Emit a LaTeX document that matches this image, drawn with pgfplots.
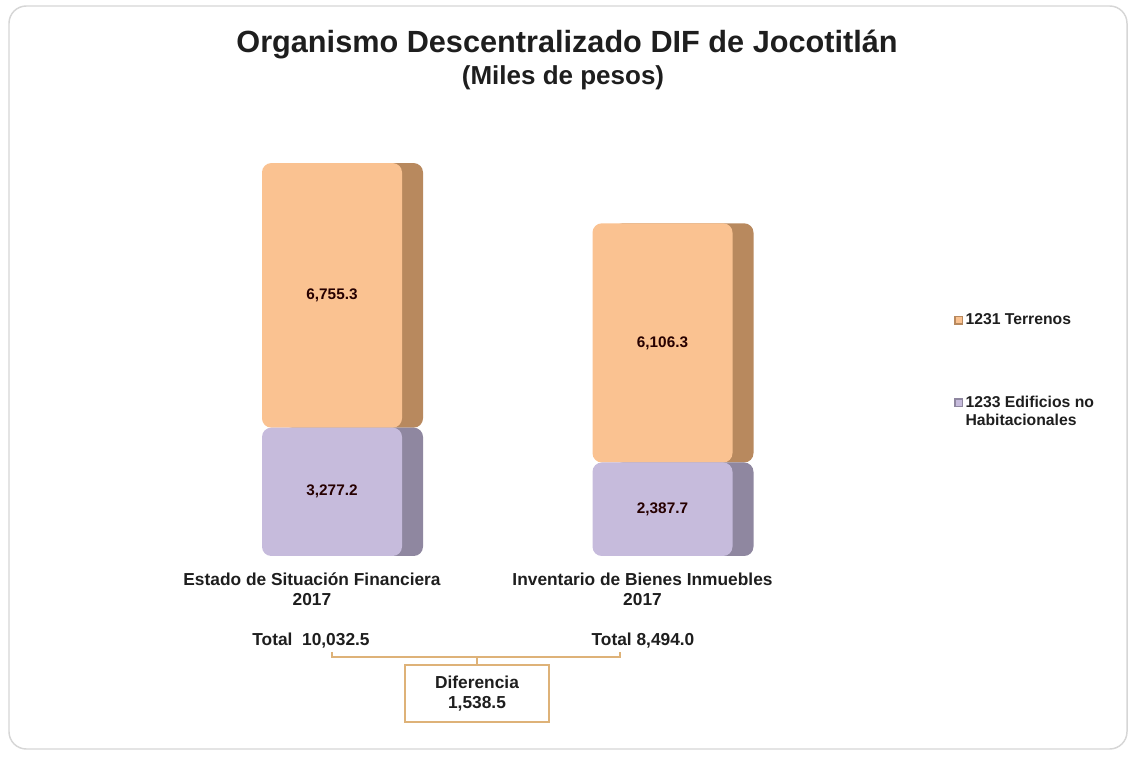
\documentclass[border=0pt]{standalone}
\usepackage{pgfplots}
\pgfplotsset{compat=1.18}
\usepackage{fontspec}
\setmainfont{Liberation Sans}
\definecolor{orF}{RGB}{250,194,145}
\definecolor{orS}{RGB}{184,137,94}
\definecolor{puF}{RGB}{198,187,220}
\definecolor{puS}{RGB}{143,135,160}
\definecolor{boxc}{RGB}{222,178,120}
\definecolor{frame}{RGB}{214,214,214}
\definecolor{txt}{RGB}{30,30,30}
\pgfplotsset{
  mybase/.style={
    scale only axis, width=495.75pt, height=352.5pt,
    xmin=-0.5, xmax=1.5, ymin=0, ymax=12000,
    at={(125.0625pt,150pt)}, anchor=south west, clip=false,
    axis x line=bottom, axis y line=none,
    x axis line style={draw=none,-},
    xtick=\empty, ytick=\empty,
  },
}
\begin{document}
\begin{tikzpicture}
\begin{scope}[x=0.75pt,y=-0.75pt,yshift=567pt]
  \path (0,0) rectangle (1134,756);
  \draw[frame, line width=1.1pt, rounded corners=13pt] (9,6) rectangle (1127,749);
  \node[font=\fontsize{23}{27}\selectfont\bfseries, text=txt] at (567,45) {Organismo Descentralizado DIF de Jocotitlán};
  \node[font=\fontsize{19.5}{23}\selectfont\bfseries, text=txt] at (563,78) {(Miles de pesos)};
  \node[font=\fontsize{13}{15}\selectfont\bfseries, text=txt] at (311,641) {Total\ \ 10,032.5};
  \node[font=\fontsize{13}{15}\selectfont\bfseries, text=txt] at (643,641) {Total 8,494.0};
  \draw[boxc, line width=0.9pt] (332,652)--(332,657)--(620,657)--(620,652);
  \draw[boxc, line width=0.9pt] (477,657)--(477,665);
  \draw[boxc, line width=0.9pt] (405,665) rectangle (549,722);
  \node[font=\fontsize{13}{15}\selectfont\bfseries, text=txt, align=center] at (477,693.5) {Diferencia\\1,538.5};
\end{scope}

% side faces
\begin{axis}[mybase, ybar stacked, bar width=105pt, bar shift=15.75pt]
  \addplot[fill=puS, draw=none, rounded corners=7pt] coordinates {(0,3277.2) (1,2387.7)};
  \addplot[fill=orS, draw=none, rounded corners=7pt] coordinates {(0,6755.3) (1,6106.3)};
\end{axis}

% front faces
\begin{axis}[mybase, ybar stacked, bar width=105pt, bar shift=0pt,
  xtick={0,1},
  xticklabels={{Estado de Situación Financiera\\2017},{Inventario de Bienes Inmuebles\\2017}},
  xticklabel style={align=center, font=\fontsize{13}{15}\selectfont\bfseries, text=txt, xshift=-15pt, yshift=-9pt},
  major tick length=0pt,
  legend style={at={(1.185,0.528)}, anchor=north west, draw=none, fill=none,
    font=\fontsize{11.8}{14}\selectfont\bfseries, text=txt,
    cells={align=left}, row sep=48pt},
  legend cell align=left,
]
  \addplot[fill=puF, draw=none, rounded corners=7pt, forget plot] coordinates {(0,3277.2) (1,2387.7)};
  \addplot[fill=orF, draw=none, rounded corners=7pt, forget plot] coordinates {(0,6755.3) (1,6106.3)};
  \addlegendimage{legend image code/.code={\fill[orS] (0pt,-3pt) rectangle (6pt,3pt); \fill[orF] (1.2pt,-2pt) rectangle (4.8pt,2pt);}}
  \addlegendentry{1231 Terrenos}
  \addlegendimage{legend image code/.code={\fill[puS] (0pt,4pt) rectangle (6pt,10pt); \fill[puF] (1.2pt,5pt) rectangle (4.8pt,9pt);}}
  \addlegendentry{1233 Edificios no\\Habitacionales}
\end{axis}

% value labels
\begin{axis}[mybase]
  \addplot[draw=none, mark=none, nodes near coords, point meta=explicit symbolic,
    nodes near coords style={anchor=center, font=\fontsize{11.5}{13}\selectfont\bfseries, text=black!85!red}]
    table[meta=lab] {
x y lab
0 1638.6 3,277.2
0 6654.85 6,755.3
1 1193.85 2,387.7
1 5440.85 6,106.3
};
\end{axis}
\end{tikzpicture}
\end{document}
